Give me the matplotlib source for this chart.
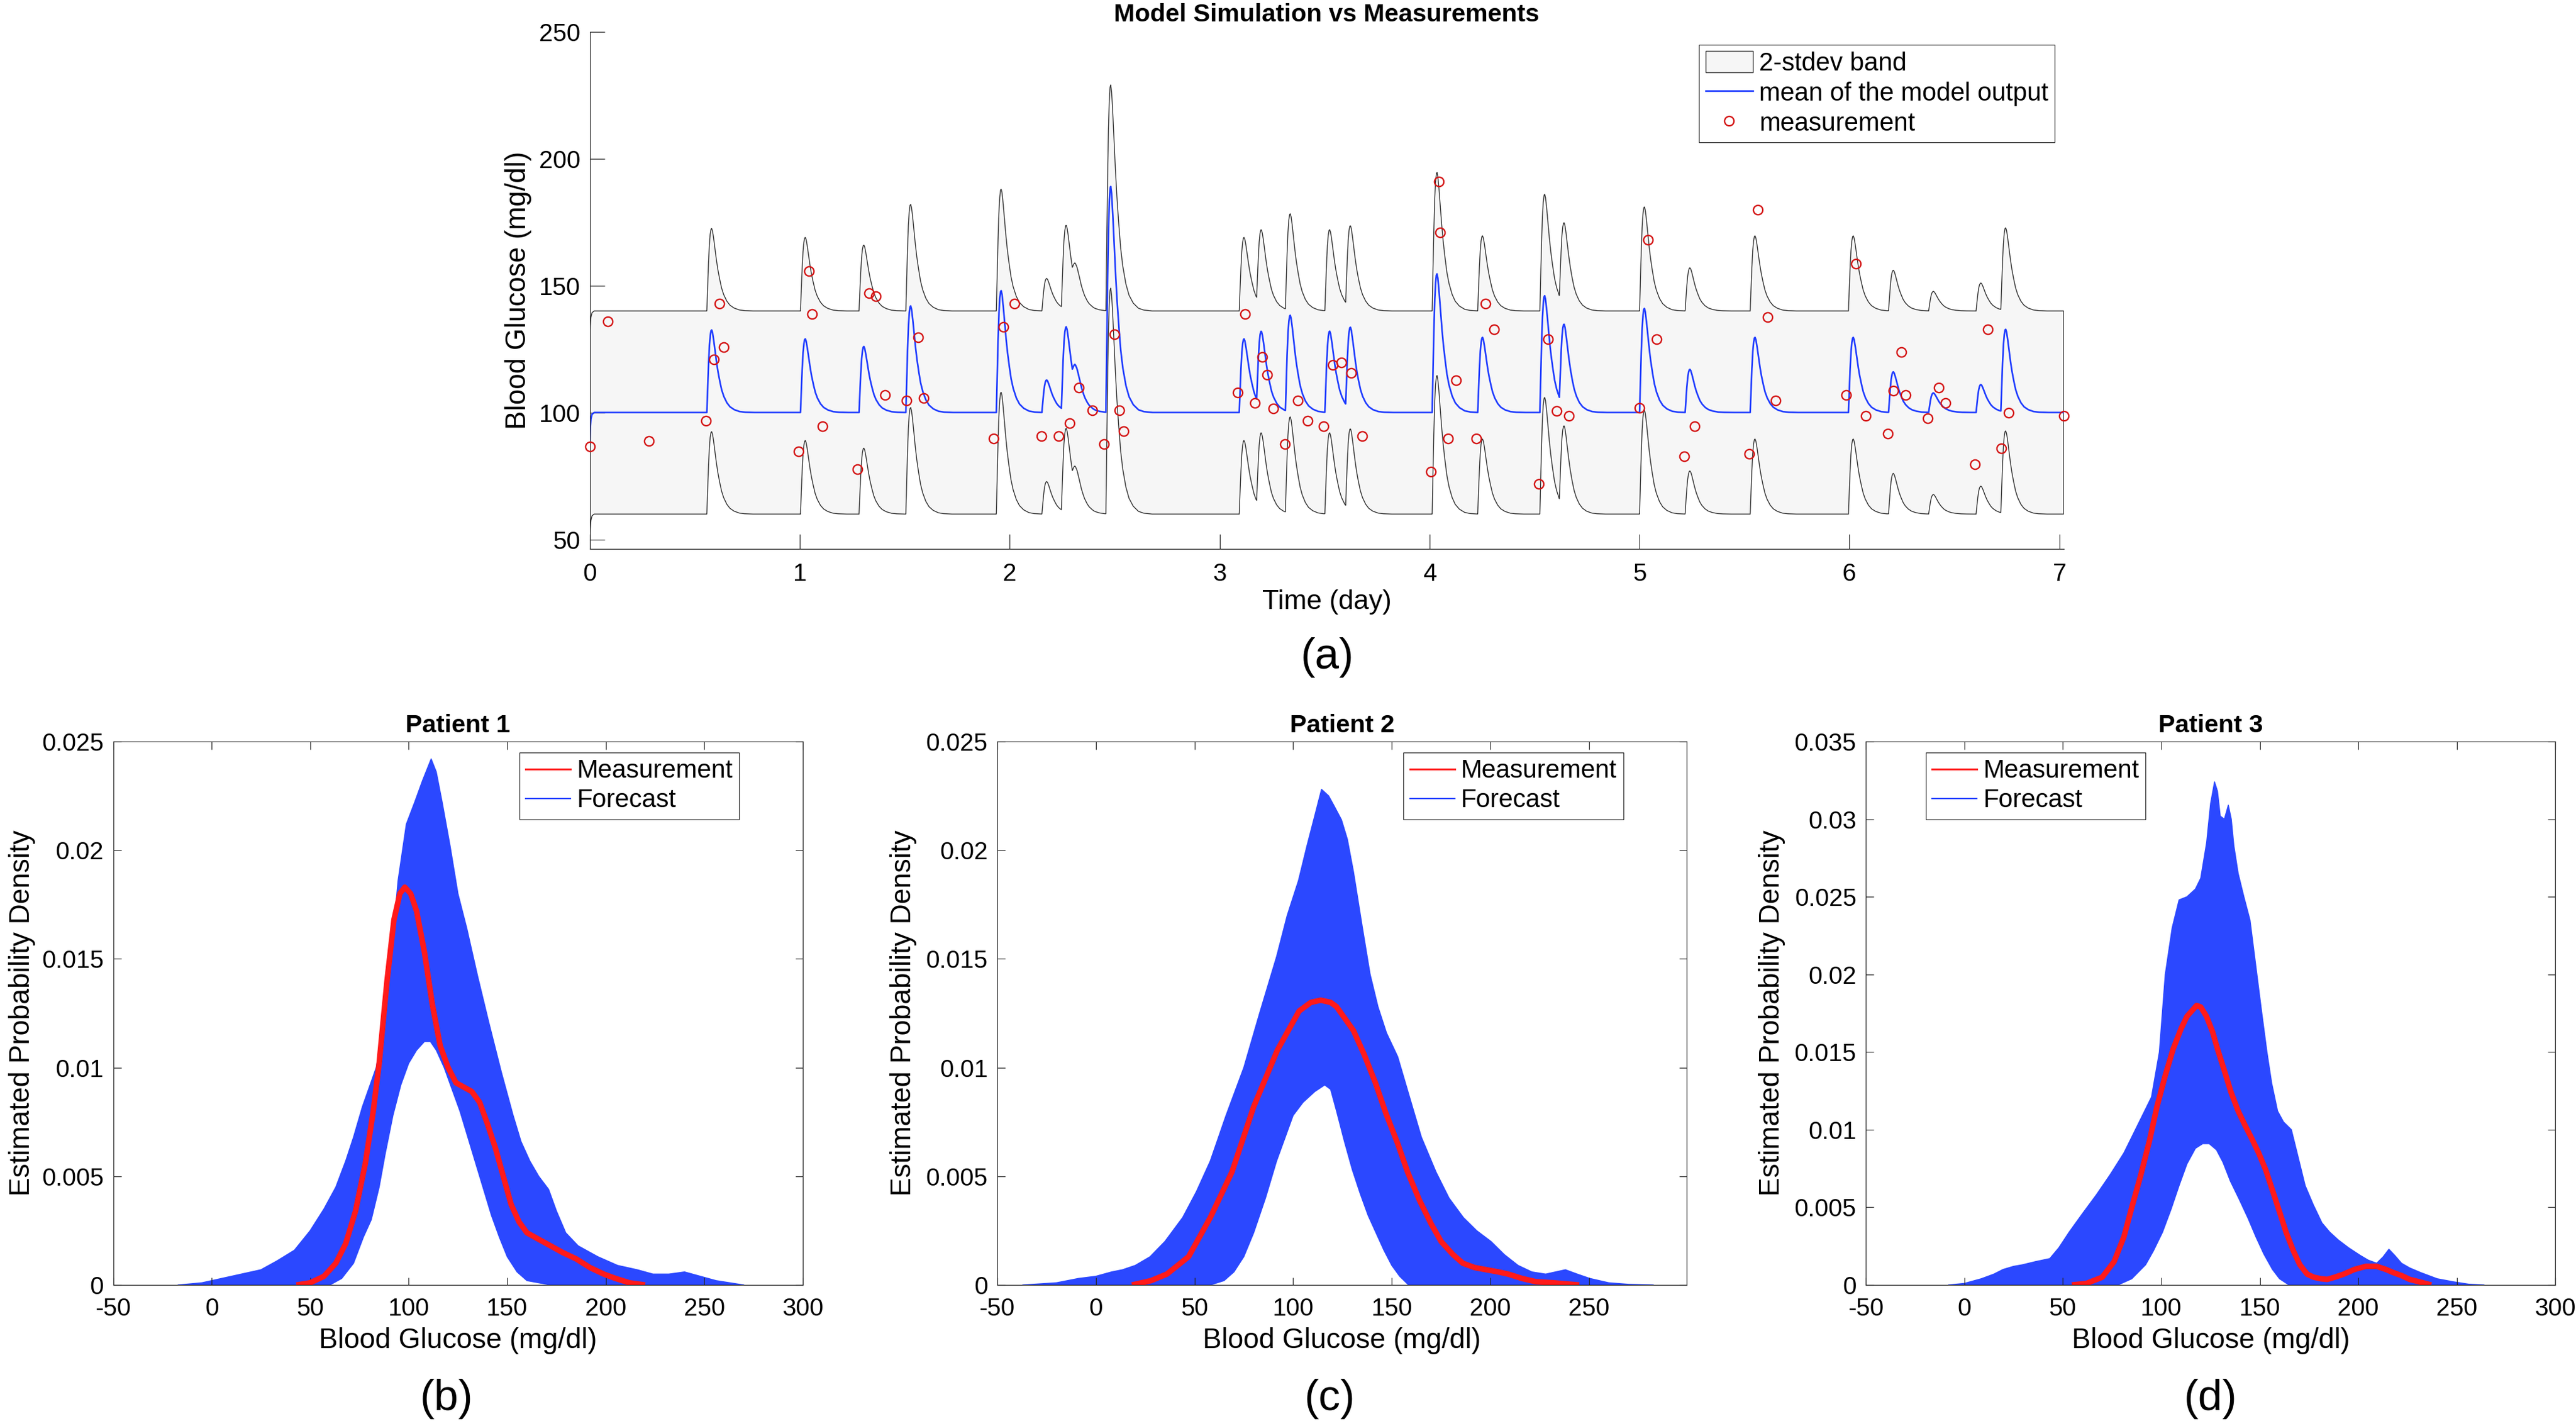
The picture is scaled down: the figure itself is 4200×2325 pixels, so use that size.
import numpy as np
import matplotlib.pyplot as plt
from matplotlib.ticker import FuncFormatter

plt.rcParams['font.family'] = ['Liberation Sans', 'DejaVu Sans']
plt.rcParams['axes.unicode_minus'] = False

# ---------------- (a) model simulation vs measurements ----------------
# meal start times (day) and the rise of the mean output above baseline (mg/dl)
meal_day = [0.557, 1.003, 1.282, 1.505, 1.936, 2.153, 2.246, 2.298, 2.458, 3.093,
            3.176, 3.313, 3.501, 3.600, 4.012, 4.229, 4.525, 4.618, 5.000, 5.217,
            5.527, 5.995, 6.186, 6.377, 6.603, 6.721]
meal_rise = [32.5, 29, 26, 42, 48, 12.8, 33, 9, 89, 29,
             29.5, 38, 32, 32, 54.6, 29.6, 46, 32, 41, 17,
             29.6, 29.6, 16, 7.7, 11, 32.5]

spike_dt = [0, 0.004, 0.008, 0.012, 0.016, 0.020, 0.023, 0.027, 0.032, 0.038, 0.045,
            0.052, 0.060, 0.070, 0.080, 0.095, 0.110, 0.130, 0.155, 0.180, 0.220]
spike_frac = [0, 0.30, 0.58, 0.80, 0.93, 0.99, 1.00, 0.97, 0.89, 0.77, 0.63,
              0.51, 0.40, 0.28, 0.20, 0.12, 0.07, 0.035, 0.012, 0.004, 0]

# start-up transient of the mean at day 0
start_dt = [0, 0.002, 0.005, 0.010, 0.020]
start_dev = [-12.5, -6, -2.5, -0.7, 0]

baseline = 100
band_half = 40      # two standard deviations
t_end = 7.02

meas_day = [0.000, 0.084, 0.282, 0.553, 0.592, 0.617, 0.637, 0.994, 1.043, 1.058,
            1.108, 1.273, 1.330, 1.363, 1.405, 1.508, 1.565, 1.589, 1.922, 1.969,
            2.023, 2.151, 2.234, 2.285, 2.330, 2.394, 2.450, 2.498, 2.521, 2.542,
            3.085, 3.121, 3.169, 3.202, 3.226, 3.256, 3.311, 3.373, 3.420, 3.495,
            3.539, 3.580, 3.627, 3.678, 4.005, 4.044, 4.049, 4.089, 4.127, 4.223,
            4.267, 4.308, 4.519, 4.563, 4.606, 4.663, 4.998, 5.040, 5.081, 5.214,
            5.261, 5.522, 5.563, 5.611, 5.649, 5.983, 6.032, 6.078, 6.183, 6.209,
            6.246, 6.267, 6.373, 6.426, 6.458, 6.597, 6.658, 6.724, 6.757, 7.020]
meas_bg = [86.7, 135.8, 88.7, 96.7, 120.8, 143.0, 125.8, 84.8, 155.8, 138.9,
           94.7, 77.6, 146.9, 145.9, 106.8, 104.8, 129.7, 105.7, 89.7, 133.7,
           143.0, 90.8, 90.8, 95.7, 109.9, 100.8, 87.6, 130.9, 100.8, 92.7,
           107.8, 138.9, 103.8, 121.8, 114.8, 101.7, 87.6, 104.8, 96.7, 94.7,
           118.8, 119.8, 115.7, 90.8, 76.7, 191.0, 171.0, 89.7, 112.8, 89.7,
           143.0, 132.8, 71.8, 128.8, 100.7, 98.6, 101.8, 167.9, 128.8, 82.7,
           94.7, 83.6, 179.9, 137.7, 104.8, 106.8, 158.7, 98.8, 91.8, 108.7,
           123.9, 106.8, 97.8, 109.7, 103.7, 79.7, 132.8, 85.8, 99.8, 98.8]

# ---------------- (b)-(d) estimated densities ----------------
p1_meas_x = [43, 50, 57, 63, 68, 73, 78, 82, 85, 89, 92.5, 95.5, 98, 101, 104, 108, 112,
             116, 120, 124, 128, 132, 136, 140, 144, 148, 152, 156, 160, 166, 172, 178,
             185, 192, 199, 205, 212, 220]
p1_meas_y = [0, 0.0001, 0.0004, 0.0010, 0.0019, 0.0034, 0.0056, 0.0080, 0.0102, 0.0140,
             0.0168, 0.0180, 0.0183, 0.0180, 0.0172, 0.0153, 0.0129, 0.0110, 0.0100,
             0.0093, 0.0091, 0.0089, 0.0084, 0.0074, 0.0063, 0.0050, 0.0037, 0.0029,
             0.0024, 0.0021, 0.0018, 0.0015, 0.0012, 0.0008, 0.0005, 0.0003, 0.0001, 0]
p1_hi_x = [-17, -5, 5, 15, 25, 33, 42, 50, 57, 63, 68, 72, 76.5, 80, 83.5, 87.7, 91, 94.6,
           98.8, 103, 107, 111.4, 114, 117, 121, 125, 129.5, 135, 140.6, 147, 153, 157,
           161.5, 166, 171, 175, 179.7, 186, 196, 206, 216, 224, 232, 240, 248, 256, 263, 270]
p1_hi_y = [0, 0.0001, 0.0003, 0.0005, 0.0007, 0.0011, 0.0016, 0.0025, 0.0035, 0.0045,
           0.0057, 0.0068, 0.0082, 0.0091, 0.0100, 0.0121, 0.0151, 0.0186, 0.0212, 0.0222,
           0.0232, 0.0242, 0.0236, 0.0222, 0.0202, 0.0180, 0.0164, 0.0142, 0.0121, 0.0098,
           0.0078, 0.0066, 0.0057, 0.0050, 0.0044, 0.0034, 0.0024, 0.0018, 0.0013, 0.0009,
           0.0007, 0.0005, 0.0005, 0.0006, 0.0004, 0.0002, 0.0001, 0]
p1_lo_x = [60, 66, 72, 77, 81, 85, 88, 92, 96, 100, 104, 108, 111, 114, 118, 122, 126,
           130, 134, 138, 142, 146, 150, 155, 160, 166, 172]
p1_lo_y = [0, 0.0003, 0.0010, 0.0022, 0.0030, 0.0045, 0.0060, 0.0078, 0.0092, 0.0102,
           0.0108, 0.0112, 0.0112, 0.0108, 0.0100, 0.0090, 0.0080, 0.0068, 0.0056, 0.0044,
           0.0032, 0.0022, 0.0013, 0.0006, 0.0002, 0.0001, 0]

p2_meas_x = [18.3, 28, 36, 47, 58, 69, 80, 92, 103, 109, 114, 119, 122, 130.6, 136, 141.7,
             147, 153, 158, 164, 170, 175, 181, 186, 192, 198, 204, 209, 216, 223, 232, 245]
p2_meas_y = [0, 0.0002, 0.0005, 0.0013, 0.0031, 0.0052, 0.0082, 0.0108, 0.0126, 0.0130,
             0.0131, 0.0130, 0.0128, 0.0117, 0.0106, 0.0093, 0.0079, 0.0065, 0.0052, 0.0039,
             0.0028, 0.0020, 0.0014, 0.0010, 0.0008, 0.0007, 0.0006, 0.0005, 0.0003,
             0.00015, 0.0001, 0]
p2_hi_x = [-37, -20, -8.8, 0, 8, 13.5, 20, 27.5, 35, 44, 51, 58, 66, 75, 83, 91.6, 97,
           102.7, 107, 111, 114.4, 118, 121, 124.5, 127.5, 130.6, 135, 139, 143, 147.3, 153,
           158.5, 165, 172.4, 179, 186.3, 193, 200.3, 207, 214, 221, 228, 233, 238, 244,
           250.4, 260, 270, 282.5]
p2_hi_y = [0, 0.0001, 0.0003, 0.0004, 0.0006, 0.0007, 0.0009, 0.0013, 0.0020, 0.0031,
           0.0043, 0.0057, 0.0078, 0.0100, 0.0125, 0.0151, 0.0170, 0.0186, 0.0202, 0.0216,
           0.0228, 0.0225, 0.0220, 0.0214, 0.0205, 0.0190, 0.0165, 0.0143, 0.0128, 0.0116,
           0.0105, 0.0088, 0.0068, 0.0052, 0.0040, 0.0031, 0.0025, 0.0020, 0.0014, 0.0009,
           0.0006, 0.0005, 0.0006, 0.0007, 0.0005, 0.0003, 0.0001, 0.00003, 0]
p2_lo_x = [58, 65, 70, 75, 80, 86, 91.6, 96, 100, 105, 111, 116, 119, 122, 126, 130, 134,
           138, 142, 146, 150, 154, 158.5]
p2_lo_y = [0, 0.0002, 0.0006, 0.0013, 0.0024, 0.0040, 0.0057, 0.0068, 0.0078, 0.0084,
           0.0089, 0.0092, 0.0090, 0.0080, 0.0066, 0.0053, 0.0042, 0.0032, 0.0024, 0.0016,
           0.0009, 0.0004, 0]

p3_meas_x = [54.6, 62, 70, 76, 81, 85, 89.4, 94, 97.8, 102, 106, 110, 113, 117.9, 120,
             122.9, 126, 128.5, 132, 135.4, 139, 142.4, 146, 149.4, 153, 156.4, 160, 163.3,
             167, 170.3, 174, 177.3, 181, 184.2, 188, 192.6, 198, 203.8, 209.3, 214, 217.7,
             222, 226, 231, 237]
p3_meas_y = [0, 0.0001, 0.0005, 0.0015, 0.0031, 0.0050, 0.0070, 0.0093, 0.0115, 0.0135,
             0.0152, 0.0165, 0.0173, 0.0180, 0.0179, 0.0173, 0.0163, 0.0152, 0.0138, 0.0124,
             0.0112, 0.0103, 0.0094, 0.0085, 0.0074, 0.0061, 0.0047, 0.0034, 0.0022, 0.0013,
             0.0007, 0.0005, 0.0004, 0.00036, 0.0005, 0.0007, 0.0010, 0.0012, 0.0012, 0.0010,
             0.0008, 0.0006, 0.00036, 0.0002, 0]
p3_hi_x = [-8, 0, 8.6, 15, 19.7, 25, 29.5, 36, 43.4, 48, 53.2, 60, 67, 74, 81, 88, 95, 99,
           102, 105.5, 109, 113, 117.3, 120, 123, 125, 127, 128.5, 129.9, 132, 134, 135.5,
           136.8, 139, 141.9, 145, 148, 151, 153.6, 156, 159, 162, 166, 169.5, 173, 177,
           181.5, 185.5, 189.8, 195, 201, 205, 209.3, 212.5, 215.5, 218.5, 221.9, 226,
           231.6, 240, 248.4, 256, 263.7]
p3_hi_y = [0, 0.0001, 0.0004, 0.0007, 0.0010, 0.0012, 0.0013, 0.0015, 0.0017, 0.0024,
           0.0034, 0.0046, 0.0058, 0.0071, 0.0085, 0.0103, 0.0121, 0.0150, 0.0200, 0.0230,
           0.0248, 0.0250, 0.0255, 0.0262, 0.0285, 0.0310, 0.0324, 0.0318, 0.0302, 0.0300,
           0.0309, 0.0300, 0.0283, 0.0265, 0.0250, 0.0235, 0.0205, 0.0175, 0.0150, 0.0130,
           0.0112, 0.0105, 0.0100, 0.0082, 0.0064, 0.0052, 0.0040, 0.0034, 0.0029, 0.0024,
           0.0019, 0.0016, 0.0014, 0.0018, 0.0023, 0.0019, 0.0014, 0.0011, 0.0008, 0.0004,
           0.0002, 0.00005, 0]
p3_lo_x = [78, 85, 92, 96, 100.6, 105, 109, 113, 117.3, 121, 124.3, 128, 131.3, 135,
           139.6, 144, 148, 152, 156.4, 160, 164.8]
p3_lo_y = [0, 0.0004, 0.0013, 0.0022, 0.0034, 0.0049, 0.0064, 0.0078, 0.0088, 0.0091,
           0.0091, 0.0087, 0.0079, 0.0067, 0.0055, 0.0043, 0.0031, 0.0020, 0.0010, 0.0004, 0]

patients = ['Patient 1', 'Patient 2', 'Patient 3']
density_ymax = [0.025, 0.025, 0.035]
density_xmax = [300, 299.5, 300]
panel_tags = ['(b)', '(c)', '(d)']

axis_col = '#262626'
blue = '#2b48ff'
fs_tick = 29
fs_label = 33

fig = plt.figure(figsize=(42, 23.25), dpi=100)

# ---------------- top panel ----------------
ax = fig.add_axes([0.2290, 0.6151, 0.5721, 0.3627])
t = np.linspace(0, t_end, 14041)
mean = baseline + np.interp(t, start_dt, start_dev, right=0)
for d, a in zip(meal_day, meal_rise):
    mean = mean + a * np.interp(t - d, spike_dt, spike_frac, left=0, right=0)
upper = mean + band_half
lower = mean - band_half

band = ax.fill(np.r_[t, t[::-1]], np.r_[upper, lower[::-1]], facecolor='#f6f6f6',
               edgecolor='#2a2a2a', lw=1.0, label='2-stdev band', zorder=1)[0]
ml, = ax.plot(t, mean, color='#1f3cff', lw=1.9, label='mean of the model output', zorder=2)
mk, = ax.plot(meas_day, meas_bg, 'o', mfc='none', mec='#d41414', ms=11, mew=1.7,
              label='measurement', zorder=3, clip_on=False)

ax.set_xlim(0, t_end)
ax.set_ylim(46.3, 250)
ax.set_xticks(range(0, 8))
ax.set_yticks([50, 100, 150, 200, 250])
for s in ['top', 'right']:
    ax.spines[s].set_visible(False)
for s in ['left', 'bottom']:
    ax.spines[s].set_color(axis_col)
    ax.spines[s].set_linewidth(0.9)
ax.tick_params(direction='in', length=17, width=0.9, colors=axis_col, labelsize=fs_tick,
               labelcolor='black')
ax.tick_params(axis='x', pad=16)
ax.tick_params(axis='y', pad=11)
ax.set_xlabel('Time (day)', fontsize=32)
ax.set_ylabel('Blood Glucose (mg/dl)', fontsize=fs_label)
ax.xaxis.set_label_coords(0.5, -0.103)
ax.xaxis.label.set_va('center')
ax.yaxis.set_label_coords(-0.0487, 0.5)
ax.yaxis.label.set_va('center')
ax.set_title('Model Simulation vs Measurements', fontsize=29.5, fontweight='bold', pad=12)
leg = ax.legend(handles=[band, ml, mk], loc='upper right', bbox_to_anchor=(0.994, 0.975),
                fontsize=30, frameon=True, fancybox=False, framealpha=1, edgecolor=axis_col,
                handlelength=1.85, handleheight=0.9, handletextpad=0.25, borderpad=0.25,
                labelspacing=0.2, borderaxespad=0)
leg.get_frame().set_linewidth(0.9)
fig.text(0.5152, 0.539, '(a)', fontsize=51, ha='center', va='center')

# ---------------- density panels ----------------
lefts = [0.04393, 0.3871, 0.7243]
tag_x = [0.1733, 0.5162, 0.8581]
ylab_x = [-0.132, -0.136, -0.136]
data = [(p1_hi_x, p1_hi_y, p1_lo_x, p1_lo_y, p1_meas_x, p1_meas_y),
        (p2_hi_x, p2_hi_y, p2_lo_x, p2_lo_y, p2_meas_x, p2_meas_y),
        (p3_hi_x, p3_hi_y, p3_lo_x, p3_lo_y, p3_meas_x, p3_meas_y)]

for i, (hx, hy, lx, ly, mx, my) in enumerate(data):
    ax = fig.add_axes([lefts[i], 0.0989, 0.2677, 0.3811])
    # forecast bundle: area between the highest and lowest forecast curves
    ax.fill(list(hx) + list(lx[::-1]), list(hy) + list(ly[::-1]), color=blue, lw=0, zorder=1)
    ax.plot(hx, hy, color=blue, lw=1.2, zorder=1)
    ax.plot(lx, ly, color=blue, lw=1.2, zorder=1)
    ax.plot(mx, my, color='#ff1a1a', lw=6.5, solid_capstyle='butt', zorder=3)

    ax.set_xlim(-50, density_xmax[i])
    ax.set_ylim(0, density_ymax[i])
    ax.set_xticks([v for v in range(-50, 301, 50) if v <= density_xmax[i]])
    ax.set_yticks(np.arange(0, density_ymax[i] + 1e-9, 0.005))
    ax.yaxis.set_major_formatter(FuncFormatter(lambda v, p: '%g' % round(v, 4)))
    for s in ax.spines.values():
        s.set_color(axis_col)
        s.set_linewidth(0.9)
    ax.tick_params(direction='in', length=9, width=0.9, colors=axis_col, labelsize=fs_tick,
                   labelcolor='black', top=True, right=True)
    ax.tick_params(axis='x', pad=14)
    ax.tick_params(axis='y', pad=11)
    ax.set_xlabel('Blood Glucose (mg/dl)', fontsize=fs_label)
    ax.set_ylabel('Estimated Probability Density', fontsize=fs_label)
    ax.xaxis.set_label_coords(0.5, -0.1023)
    ax.xaxis.label.set_va('center')
    ax.yaxis.set_label_coords(ylab_x[i], 0.5)
    ax.yaxis.label.set_va('center')
    ax.set_title(patients[i], fontsize=29.5, fontweight='bold', pad=11)

    h1, = ax.plot([], [], color='#ff1a1a', lw=2.2, label='Measurement')
    h2, = ax.plot([], [], color=blue, lw=1.6, label='Forecast')
    lg = ax.legend(handles=[h1, h2],
                   loc='upper right' if i < 2 else 'upper left',
                   bbox_to_anchor=(0.908, 0.98) if i < 2 else (0.087, 0.98),
                   fontsize=30, frameon=True, fancybox=False, framealpha=1,
                   edgecolor=axis_col, handlelength=1.75, handletextpad=0.25,
                   borderpad=0.25, labelspacing=0.2, borderaxespad=0)
    lg.get_frame().set_linewidth(0.9)
    fig.text(tag_x[i], 0.019, panel_tags[i], fontsize=51, ha='center', va='center')

fig.savefig('out.png', dpi=100, facecolor='white')
